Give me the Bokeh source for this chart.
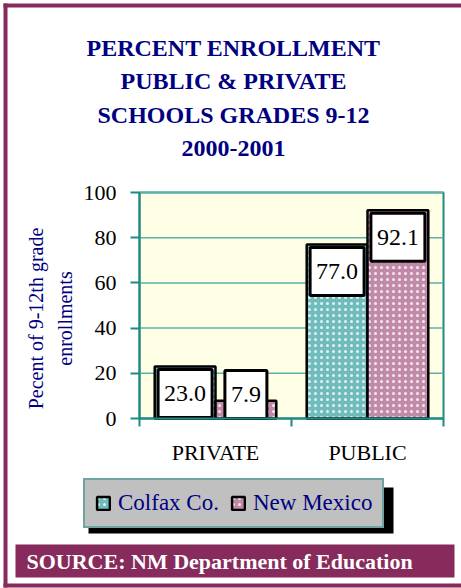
import numpy as np
from bokeh.plotting import figure
from bokeh.models import (Range1d, FixedTicker, BoxAnnotation, Label, Legend, LegendItem)
from bokeh.core.properties import value
from bokeh.embed import file_html
from bokeh.resources import INLINE

# ---- data ----
categories = ["PRIVATE", "PUBLIC"]
colfax = [23.0, 77.0]
new_mexico = [7.9, 92.1]
series_names = ["Colfax Co.", "New Mexico"]
y_ticks = [0, 20, 40, 60, 80, 100]
title_lines = ["PERCENT ENROLLMENT", "PUBLIC & PRIVATE", "SCHOOLS GRADES 9-12", "2000-2001"]
y_label_lines = ["Pecent of 9-12th grade", "enrollments"]
source_text = "SOURCE:  NM Department of Education"

# ---- styles / layout ----
NAVY = "#000080"
TEAL = "#1E8A82"
GRID = "#5DB0AA"
MAROON = "#862B5B"
PLOT_BG = "#FFFFE6"
BAR_COLORS = ["#70BCBC", "#C18AA8"]
SERIF = "Liberation Serif"

W, H = 461, 588
PL, PR, PT, PB = 139, 443, 192, 418      # plot-area box in pixels
N = len(categories)
Y_MAX = y_ticks[-1]
ppx = (PR - PL) / N
ppy = (PB - PT) / Y_MAX


def X(px):
    return (px - PL) / ppx


def Y(py):
    return (PB - py) / ppy


p = figure(width=W, height=H,
           x_range=Range1d(X(0), X(W)), y_range=Range1d(Y(H), Y(0)),
           output_backend="svg", toolbar_location=None,
           min_border=0, min_border_left=0, min_border_right=0, min_border_top=0, min_border_bottom=0)
p.background_fill_color = "white"
p.border_fill_color = "white"
p.outline_line_color = None
p.grid.visible = False

# plot area background + frame
p.add_layout(BoxAnnotation(left=0, right=N, bottom=0, top=Y_MAX, fill_color=PLOT_BG, fill_alpha=1,
                           line_color=TEAL, line_width=2, line_alpha=1, level="underlay"))
# grid lines
p.segment(x0=[0] * len(y_ticks), x1=[N] * len(y_ticks), y0=y_ticks, y1=y_ticks,
          line_color=GRID, line_width=1.5)

# y axis
p.yaxis.fixed_location = 0
p.yaxis.bounds = (0, Y_MAX)
p.yaxis.ticker = FixedTicker(ticks=y_ticks, minor_ticks=[])
p.yaxis.axis_line_color = TEAL
p.yaxis.axis_line_width = 2
p.yaxis.major_tick_line_color = TEAL
p.yaxis.major_tick_line_width = 2
p.yaxis.major_tick_out = 9
p.yaxis.major_tick_in = 0
p.yaxis.minor_tick_line_color = None
p.yaxis.major_label_standoff = 14
p.yaxis.major_label_text_font = SERIF
p.yaxis.major_label_text_font_size = "22px"
p.yaxis.major_label_text_color = "black"

# x axis: labels at category centres, tick marks at boundaries
centres = [i + 0.5 for i in range(N)]
bounds = [float(i) for i in range(N + 1)]
p.xaxis.fixed_location = 0
p.xaxis.bounds = (0, N)
p.xaxis.ticker = FixedTicker(ticks=centres, minor_ticks=bounds)
p.xaxis.major_label_overrides = {c: lab for c, lab in zip(centres, categories)}
p.xaxis.axis_line_color = TEAL
p.xaxis.axis_line_width = 2
p.xaxis.major_tick_line_color = None
p.xaxis.major_tick_out = 0
p.xaxis.major_tick_in = 0
p.xaxis.minor_tick_line_color = TEAL
p.xaxis.minor_tick_line_width = 2
p.xaxis.minor_tick_out = 8
p.xaxis.minor_tick_in = 0
p.xaxis.major_label_standoff = 13
p.xaxis.major_label_text_font = SERIF
p.xaxis.major_label_text_font_size = "22px"
p.xaxis.major_label_text_color = "black"

# bars
bar_w = 0.4
offsets = [-0.2, 0.2]
renderers = []
for series, off, col in zip([colfax, new_mexico], offsets, BAR_COLORS):
    xs = [c + off for c in centres]
    r = p.vbar(x=xs, top=series, width=bar_w, fill_color=col, line_color="black", line_width=2.5,
               hatch_pattern="dot", hatch_color="white", hatch_scale=6, hatch_weight=1, hatch_alpha=0.8)
    renderers.append(r)

# value boxes (sized to text)
LABEL_FS = 24
pad_px = 6
box_h_px = 48
for series, off in zip([colfax, new_mexico], offsets):
    xs = np.array([c + off for c in centres])
    texts = [f"{v:.1f}" for v in series]
    widths = np.array([sum(0.5 if ch.isdigit() else 0.25 for ch in t) * LABEL_FS + 2 * pad_px for t in texts])
    top_px = np.array([min(PB - v * ppy + 3, PB - box_h_px) for v in series])
    tops = Y(top_px)
    bottoms = Y(top_px + box_h_px)
    half = widths / 2 / ppx
    p.quad(left=xs - half, right=xs + half, top=tops, bottom=bottoms,
           fill_color="white", line_color="black", line_width=3)
    p.text(x=xs, y=(tops + bottoms) / 2, text=texts,
           text_align="center", text_baseline="middle",
           text_font=value(SERIF), text_font_size=f"{LABEL_FS}px", text_color="black")

# title
for i, line in enumerate(title_lines):
    p.add_layout(Label(x=X(233), y=Y(47 + i * 33.7), text=line,
                       text_align="center", text_baseline="alphabetic", text_font=SERIF,
                       text_font_style="bold", text_font_size="24px", text_color=NAVY))

# y-axis label (two lines, rotated)
for i, line in enumerate(y_label_lines):
    p.add_layout(Label(x=X(35 + i * 29), y=Y(318), text=line,
                       angle=np.pi / 2, text_align="center", text_baseline="middle",
                       text_font=SERIF, text_font_size="20px", text_color=NAVY))

# legend shadow
p.add_layout(BoxAnnotation(left=X(88), right=X(393), top=Y(487), bottom=Y(533),
                           fill_color="black", fill_alpha=1, line_alpha=0))

legend = Legend(items=[LegendItem(label=n, renderers=[r]) for n, r in zip(series_names, renderers)],
                orientation="horizontal", location=(83, H - 528),
                background_fill_color="#C0C0C0", background_fill_alpha=1,
                border_line_color=TEAL, border_line_width=2,
                padding=10, spacing=11, label_standoff=7, margin=0,
                glyph_width=16, glyph_height=16, label_height=26,
                label_text_font=SERIF, label_text_font_size="23px", label_text_color=NAVY)
p.add_layout(legend, "center")

# source bar
p.add_layout(BoxAnnotation(left=X(15), right=X(454), top=Y(544), bottom=Y(577),
                           fill_color=MAROON, fill_alpha=1, line_alpha=0))
p.add_layout(Label(x=X(26), y=Y(561), text=source_text,
                   text_align="left", text_baseline="middle", text_font=SERIF,
                   text_font_style="bold", text_font_size="22px", text_color="white"))

# page frame (left, top, bottom)
for l, r, t, b in [(3, 7, 3, 587), (3, W, 3, 7), (3, W, 583, 587)]:
    p.add_layout(BoxAnnotation(left=X(l), right=X(r), top=Y(t), bottom=Y(b),
                               fill_color=MAROON, fill_alpha=1, line_alpha=0))

open("out.html", "w").write(file_html(p, INLINE))
